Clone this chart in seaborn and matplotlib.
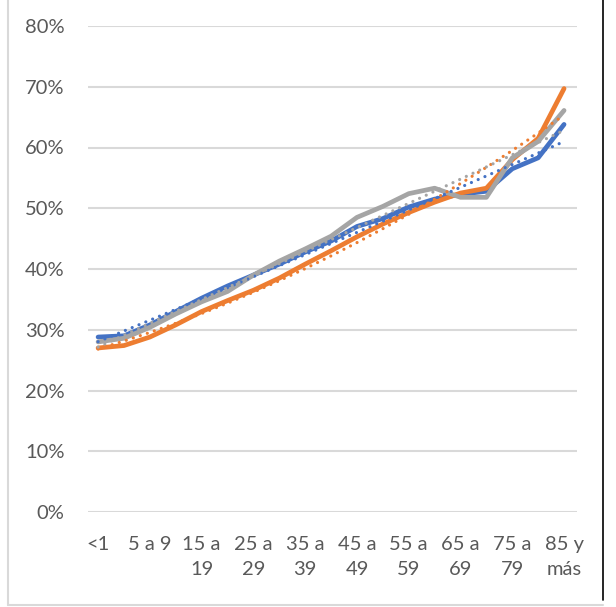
import numpy as np
import pandas as pd
import matplotlib
matplotlib.use("Agg")
import matplotlib.pyplot as plt
import seaborn as sns
from matplotlib.lines import Line2D

# Age groups (19 categories) and the share for each of three series
age_groups = ["<1", "1 a 4", "5 a 9", "10 a 14", "15 a 19", "20 a 24", "25 a 29",
              "30 a 34", "35 a 39", "40 a 44", "45 a 49", "50 a 54", "55 a 59",
              "60 a 64", "65 a 69", "70 a 74", "75 a 79", "80 a 84", "85 y más"]
serie_azul = [28.8, 29.0, 30.8, 33.0, 35.2, 37.2, 39.0, 40.8, 42.8, 44.6, 47.0,
              48.3, 50.2, 51.5, 52.3, 52.8, 56.5, 58.3, 63.8]
serie_naranja = [27.0, 27.4, 28.8, 30.8, 33.0, 34.8, 36.5, 38.5, 40.8, 43.0, 45.3,
                 47.4, 49.3, 51.0, 52.5, 53.3, 58.0, 61.5, 69.7]
serie_gris = [28.0, 28.6, 30.4, 32.6, 34.6, 36.3, 39.0, 41.3, 43.3, 45.4, 48.5,
              50.3, 52.4, 53.3, 51.8, 51.8, 58.3, 61.0, 66.1]

# Axis labels: every other age group, wrapped on two lines
tick_labels = ["<1", "5 a 9", "15 a\n19", "25 a\n29", "35 a\n39", "45 a\n49",
               "55 a\n59", "65 a\n69", "75 a\n79", "85 y\nmás"]
y_ticks = [0, 10, 20, 30, 40, 50, 60, 70, 80]

colors = {"azul": "#4472C4", "naranja": "#ED7D31", "gris": "#A5A5A5"}
series = {"azul": serie_azul, "naranja": serie_naranja, "gris": serie_gris}

sns.set_theme(style="white")
plt.rcParams["font.family"] = ["Lato", "DejaVu Sans"]

pos = np.arange(len(age_groups))
frames = []
for name, vals in series.items():
    frames.append(pd.DataFrame({"pos": pos, "valor": np.array(vals) / 100.0, "serie": name}))
df = pd.concat(frames, ignore_index=True)

# Polynomial trend lines fitted to each series
trend_frames = []
for name, vals in series.items():
    coef = np.polyfit(pos + 1, np.array(vals) / 100.0, 2)
    trend_frames.append(pd.DataFrame({"pos": pos, "valor": np.polyval(coef, pos + 1), "serie": name}))
df_trend = pd.concat(trend_frames, ignore_index=True)

W, H = 616, 607
fig = plt.figure(figsize=(W / 100, H / 100), dpi=100)
ax = fig.add_axes([88 / W, 1 - 512 / H, (577 - 88) / W, (512 - 26) / H])

sns.lineplot(data=df, x="pos", y="valor", hue="serie", palette=colors, ax=ax,
             linewidth=3.4, legend=False, sort=False)
for name in series:
    sub = df_trend[df_trend["serie"] == name]
    sns.lineplot(data=sub, x="pos", y="valor", color=colors[name], ax=ax,
                 linewidth=2.3, linestyle=(0, (0.01, 2.3)),
                 dash_capstyle="round", legend=False, sort=False)

ax.set_xlim(-0.39, 18.5)
ax.set_ylim(0, 0.8)
ax.set_yticks([v / 100 for v in y_ticks])
ax.set_yticklabels([f"{v}%" for v in y_ticks])
ax.set_xticks(pos[::2])
ax.set_xticklabels(tick_labels, linespacing=1.6, va="top")
ax.tick_params(axis="both", length=0, labelsize=14.5, colors="#595959")
ax.tick_params(axis="y", pad=17)
ax.tick_params(axis="x", pad=17)
ax.set_xlabel("")
ax.set_ylabel("")
ax.grid(axis="y", color="#D9D9D9", linewidth=1.5)
ax.set_axisbelow(True)
for s in ax.spines.values():
    s.set_visible(False)

# Chart-area frame
fig.add_artist(Line2D([7.5 / W, 7.5 / W], [1 - 605 / H, 1.0], transform=fig.transFigure,
                      color="#D9D9D9", linewidth=1.5))
fig.add_artist(Line2D([7.5 / W, 603 / W], [1 - 605 / H, 1 - 605 / H], transform=fig.transFigure,
                      color="#D9D9D9", linewidth=1.5))
fig.add_artist(Line2D([603 / W, 603 / W], [1 - 600 / H, 1.0], transform=fig.transFigure,
                      color="black", linewidth=1.2))

fig.savefig("out.png", dpi=100)
